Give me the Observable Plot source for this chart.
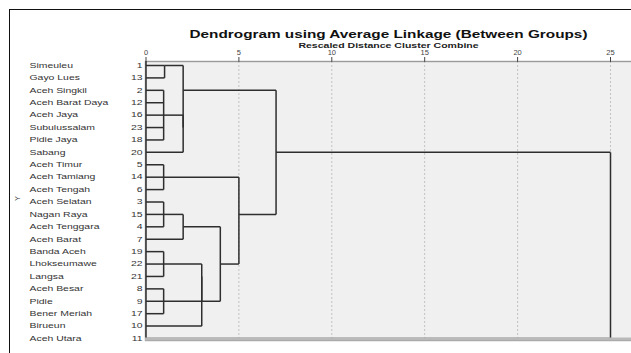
<!DOCTYPE html>
<html><head><meta charset="utf-8">
<script src="https://cdn.jsdelivr.net/npm/d3@7"></script>
<script src="https://cdn.jsdelivr.net/npm/@observablehq/plot@0.6"></script>
<style>
html,body{margin:0;padding:0;background:#fff;}
#wrap{position:relative;width:631px;height:353px;overflow:hidden;background:#fff;}
#chart{position:absolute;left:0;top:0;}
#outer{position:absolute;left:9px;top:9px;width:640px;height:360px;border-left:1.6px solid #111;border-top:1.6px solid #111;pointer-events:none;}
</style></head><body>
<div id="wrap"><div id="chart"></div><div id="outer"></div></div>
<script>
// ---- data ----
const leafNames = ["Simeuleu","Gayo Lues","Aceh Singkil","Aceh Barat Daya","Aceh Jaya","Subulussalam","Pidie Jaya","Sabang",
  "Aceh Timur","Aceh Tamiang","Aceh Tengah","Aceh Selatan","Nagan Raya","Aceh Tenggara","Aceh Barat",
  "Banda Aceh","Lhokseumawe","Langsa","Aceh Besar","Pidie","Bener Meriah","Birueun","Aceh Utara"];
const leafIds = [1,13,2,12,16,23,18,20,5,14,6,3,15,4,7,19,22,21,8,9,17,10,11];
// merges in order; "cK" refers to the cluster created by merge K
const mergeChildren = [
  [1,13],
  [2,12,16,23,18],
  ["c1",20],
  ["c0","c2"],
  [5,14,6],
  [3,15,4],
  ["c5",7],
  [19,22,21],
  [8,9,17],
  ["c7","c8"],
  ["c9",10],
  ["c6","c10"],
  ["c4","c11"],
  ["c3","c12"],
  ["c13",11]
];
const mergeDist = [1.0,0.95,2.0,2.0,0.95,0.95,2.0,0.95,0.95,3.0,3.0,4.0,5.0,7.0,25];
const axisTicks = [0,5,10,15,20,25];
const titleText = "Dendrogram using Average Linkage (Between Groups)";
const subtitleText = "Rescaled Distance Cluster Combine";
const yLabelText = "Y";

// ---- build dendrogram segments ----
const nodes = new Map();
leafIds.forEach((id, i) => nodes.set(String(id), {anchor: i, dist: 0}));
const segs = [];
mergeChildren.forEach((children, k) => {
  const d = mergeDist[k];
  const kids = children.map(c => nodes.get(String(c)));
  kids.forEach(n => segs.push({x1: n.dist, x2: d, y1: n.anchor, y2: n.anchor}));
  const lo = d3.min(kids, n => n.anchor), hi = d3.max(kids, n => n.anchor);
  segs.push({x1: d, x2: d, y1: lo, y2: hi});
  nodes.set("c" + k, {anchor: Math.floor((lo + hi) / 2), dist: d});
});
const rows = leafNames.map((name, i) => ({name, id: String(leafIds[i]), row: i}));

const font = "'Liberation Sans', Arial, sans-serif";
const chart = Plot.plot({
  width: 631, height: 353,
  marginLeft: 145, marginRight: 0, marginTop: 61, marginBottom: 13,
  style: {fontFamily: font, background: "transparent"},
  x: {domain: [0, 25], range: [145.5, 610], axis: null},
  y: {domain: [0, leafNames.length - 1], range: [65, 338], axis: null},
  marks: [
    Plot.frame({fill: "#f0f0f0", stroke: "#9a9a9a", strokeWidth: 1.4, insetRight: -3}),
    Plot.ruleX(axisTicks.slice(1), {stroke: "#c2c2c2", strokeDasharray: "2,2", strokeWidth: 1}),
    Plot.ruleX([0], {stroke: "#333", strokeWidth: 1.5}),
    Plot.link(segs, {x1: "x1", y1: "y1", x2: "x2", y2: "y2", stroke: "#2e2e2e", strokeWidth: 1.5}),
    Plot.ruleY([leafNames.length - 1], {stroke: "#b9b9b9", strokeWidth: 3, dy: 0.5}),
    Plot.axisX(axisTicks, {anchor: "top", tickSize: 5, tickPadding: 1.5, fontSize: 7.5, color: "#444", label: null}),
    Plot.text(rows, {y: "row", text: "name", frameAnchor: "left", dx: -116, textAnchor: "start", fontSize: 7.2, fill: "#333", ariaDescription: "stretch-1.45"}),
    Plot.text(rows, {y: "row", text: "id", frameAnchor: "left", dx: -3, textAnchor: "end", fontSize: 7.2, fill: "#333", ariaDescription: "stretch-1.45"}),
    Plot.text([titleText], {frameAnchor: "top", dy: -30.5, fontSize: 10.5, fontWeight: "bold", fill: "#111", ariaDescription: "stretch-1.46"}),
    Plot.text([subtitleText], {frameAnchor: "top", dy: -18.5, fontSize: 6.8, fontWeight: "bold", fill: "#222", ariaDescription: "stretch-1.55"}),
    Plot.text([yLabelText], {frameAnchor: "left", dx: -128, rotate: -90, fontSize: 7.5, fill: "#333"})
  ]
});
document.getElementById("chart").appendChild(chart);

// horizontally stretch text as in the reference rendering
d3.select(chart).selectAll("g[aria-description^='stretch']").each(function () {
  const f = +this.getAttribute("aria-description").split("-")[1];
  d3.select(this).selectAll("text").each(function () {
    let t = this.getAttribute("transform");
    if (!t) {
      const x = +this.getAttribute("x") || 0, y = +this.getAttribute("y") || 0;
      this.removeAttribute("x"); this.removeAttribute("y");
      t = `translate(${x},${y})`;
    }
    this.setAttribute("transform", `${t} scale(${f},1)`);
  });
});
</script>
</body></html>
